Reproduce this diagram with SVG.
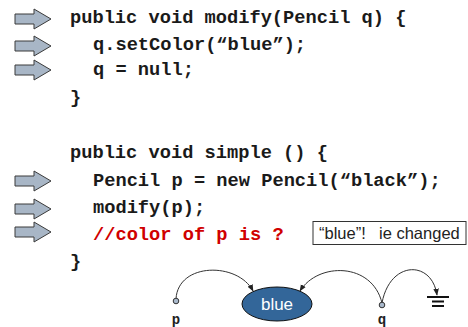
<svg xmlns="http://www.w3.org/2000/svg" xmlns:xlink="http://www.w3.org/1999/xlink" width="468" height="327" viewBox="0 0 468 327">
  <style>
    .code { font-family: "Liberation Mono", "Courier New", monospace; font-weight: bold; font-size: 18.7px; fill: #1a1a1a; }
    .red { fill: #d00000; }
    .note { font-family: "Liberation Sans", Arial, sans-serif; font-size: 16.5px; fill: #222; }
    .var { font-family: "Liberation Mono", "Courier New", monospace; font-weight: bold; font-size: 14px; fill: #222; }
    .edge { fill: none; stroke: #333; stroke-width: 1; }
    .dot { fill: #a9b9cc; stroke: #333; stroke-width: 1; }
    .blk { fill: #a8b6c6; stroke: #3a3a3a; stroke-width: 1; }
  </style>
  <defs>
    <path id="blockArrow" d="M15,-5 H34 V-10 L51,0 L34,10 V5 H15 Z"/>
    <marker id="head" viewBox="0 0 10 10" refX="9" refY="5" markerWidth="7" markerHeight="7" orient="auto">
      <path d="M0,1 L10,5 L0,9 Z" fill="#222"/>
    </marker>
  </defs>

  <!-- step pointers -->
  <g id="pointers">
    <use xlink:href="#blockArrow" class="blk" transform="translate(0,19)"/>
    <use xlink:href="#blockArrow" class="blk" transform="translate(0,46)"/>
    <use xlink:href="#blockArrow" class="blk" transform="translate(0,70)"/>
    <use xlink:href="#blockArrow" class="blk" transform="translate(0,181)"/>
    <use xlink:href="#blockArrow" class="blk" transform="translate(0,209)"/>
    <use xlink:href="#blockArrow" class="blk" transform="translate(0,232)"/>
  </g>

  <!-- source code -->
  <g id="code">
    <text class="code" x="70" y="23">public void modify(Pencil q) {</text>
    <text class="code" x="93" y="50">q.setColor(“blue”);</text>
    <text class="code" x="93" y="75">q = null;</text>
    <text class="code" x="70" y="103">}</text>
    <text class="code" x="70" y="158">public void simple () {</text>
    <text class="code" x="93" y="186">Pencil p = new Pencil(“black”);</text>
    <text class="code" x="93" y="213">modify(p);</text>
    <text class="code red" x="93" y="240">//color of p is ?</text>
    <text class="code" x="70" y="267">}</text>
  </g>

  <!-- answer box -->
  <g id="answer">
    <rect x="313" y="221.5" width="153" height="23" fill="#fff" stroke="#333" stroke-width="1"/>
    <text class="note" x="319" y="239">“blue”!<tspan x="379">ie changed</tspan></text>
  </g>

  <!-- reference diagram -->
  <g id="connectors">
    <path class="edge" d="M176,299 C178,262 238,262 253,291" marker-end="url(#head)"/>
    <path class="edge" d="M382,303 C372,262 318,262 300,291" marker-end="url(#head)"/>
    <path class="edge" d="M382,303 C390,260 432,260 437,295" marker-end="url(#head)"/>
  </g>
  <g id="obj-blue">
    <ellipse cx="277" cy="304" rx="35" ry="17" fill="#336699" stroke="#111" stroke-width="1"/>
    <text x="277" y="310" text-anchor="middle" font-family="Liberation Sans, Arial, sans-serif" font-size="17" fill="#fff">blue</text>
  </g>
  <g id="var-p">
    <circle class="dot" cx="176" cy="301" r="2.8"/>
    <text class="var" x="176" y="324" text-anchor="middle">p</text>
  </g>
  <g id="var-q">
    <circle class="dot" cx="382" cy="305" r="2.8"/>
    <text class="var" x="382" y="324" text-anchor="middle">q</text>
  </g>
  <g id="null-ground">
    <line x1="427" y1="297" x2="449" y2="297" stroke="#111" stroke-width="2"/>
    <line x1="432" y1="301.5" x2="444" y2="301.5" stroke="#111" stroke-width="2"/>
    <line x1="432" y1="306" x2="444" y2="306" stroke="#111" stroke-width="2"/>
  </g>
</svg>
